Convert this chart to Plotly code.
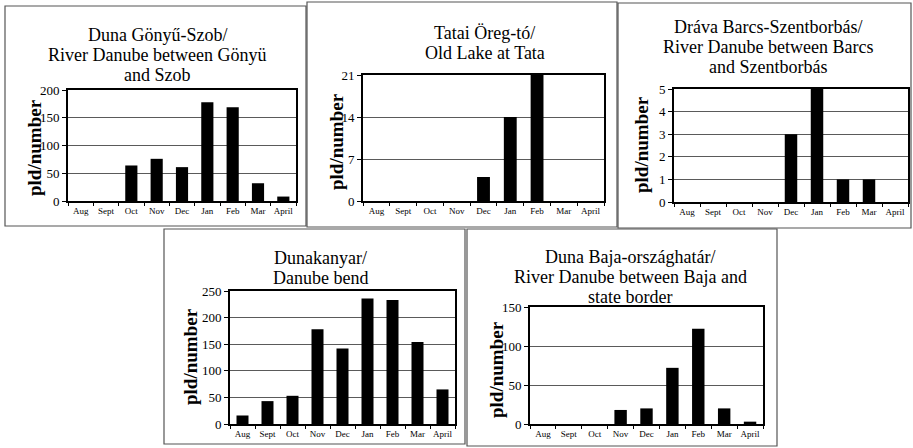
import plotly.graph_objects as go

W, H = 913, 448

months = ["Aug", "Sept", "Oct", "Nov", "Dec", "Jan", "Feb", "Mar", "April"]
gonyu_szob = [0, 0, 64, 76, 61, 178, 169, 32, 8]
tata = [0, 0, 0, 0, 4, 14, 21, 0, 0]
barcs = [0, 0, 0, 0, 3, 5, 1, 1, 0]
dunakanyar = [16, 43, 53, 178, 142, 236, 233, 154, 65]
baja = [0, 0, 0, 18, 20, 72, 122, 20, 3]

titles = [
    ["Duna Gönyű-Szob/", "River Danube between Gönyü", "and Szob"],
    ["Tatai Öreg-tó/", "Old Lake at Tata"],
    ["Dráva Barcs-Szentborbás/", "River Danube between Barcs", "and Szentborbás"],
    ["Dunakanyar/", "Danube bend"],
    ["Duna Baja-országhatár/", "River Danube between Baja and", "state border"],
]
y_max = [200, 21, 5, 250, 150]
y_step = [50, 7, 1, 50, 50]
series = [gonyu_szob, tata, barcs, dunakanyar, baja]
ytitle = "pld/number"

# pixel geometry (style/layout only)
plot_px = [  # x0, x1, ytop, ybottom
    (68, 296, 90, 201),
    (363, 604, 75, 201),
    (674, 908, 89, 202),
    (230, 455, 291, 424),
    (530, 763, 307, 424),
]
panel_px = [  # x0, x1, y0, y1
    (5, 306, 6, 226),
    (307, 617, 2, 227),
    (618, 911, 3, 228),
    (164, 465, 229, 444),
    (467, 777, 229, 446),
]
title_cx = [157, 485, 768, 320, 630]
title_y0 = [35, 33, 27, 258, 257]
ytitle_pos = [(35, 148), (336, 142), (641, 145), (190, 357), (496, 370)]

SERIF = "Liberation Serif"

def px(x):
    return x / W

def py(y):
    return 1 - y / H

fig = go.Figure()
layout = dict(
    width=W, height=H,
    margin=dict(l=0, r=0, t=0, b=0),
    paper_bgcolor="white", plot_bgcolor="white",
    showlegend=False, bargap=0.52,
    font=dict(family=SERIF, color="black"),
)
annotations = []
shapes = []

for i in range(5):
    n = "" if i == 0 else str(i + 1)
    fig.add_trace(go.Bar(
        x=months, y=series[i], xaxis="x" + n, yaxis="y" + n,
        marker=dict(color="black", line=dict(width=0)),
        hoverinfo="x+y",
    ))
    x0, x1, yt, yb = plot_px[i]
    layout["xaxis" + n] = dict(
        domain=[px(x0), px(x1)], anchor="y" + n, type="category",
        showline=True, mirror=True, linecolor="black", linewidth=2,
        ticks="outside", tickson="boundaries", ticklen=3, tickcolor="black",
        tickwidth=1, showgrid=False, tickangle=0, automargin=False,
        tickfont=dict(family=SERIF, size=9, color="black"),
        fixedrange=True,
    )
    layout["yaxis" + n] = dict(
        domain=[py(yb), py(yt)], anchor="x" + n,
        range=[0, y_max[i]], dtick=y_step[i], tick0=0,
        showline=True, mirror=True, linecolor="black", linewidth=2,
        ticks="outside", ticklen=4, tickcolor="black", tickwidth=1,
        showgrid=True, gridcolor="#5a5a5a", gridwidth=1, zeroline=False,
        tickfont=dict(family=SERIF, size=13, color="black"),
        fixedrange=True, automargin=False,
    )
    for k, line in enumerate(titles[i]):
        annotations.append(dict(
            text=line, xref="paper", yref="paper",
            x=px(title_cx[i]), y=py(title_y0[i] + 20 * k),
            xanchor="center", yanchor="middle", showarrow=False,
            font=dict(family=SERIF, size=18, color="black"),
        ))
    tx, ty = ytitle_pos[i]
    annotations.append(dict(
        text="<b>" + ytitle + "</b>", xref="paper", yref="paper",
        x=px(tx), y=py(ty), xanchor="center", yanchor="middle",
        textangle=-90, showarrow=False,
        font=dict(family=SERIF, size=19, color="black"),
    ))
    bx0, bx1, by0, by1 = panel_px[i]
    shapes.append(dict(
        type="rect", xref="paper", yref="paper",
        x0=px(bx0), x1=px(bx1), y0=py(by1), y1=py(by0),
        line=dict(color="#555555", width=1.2), fillcolor="rgba(0,0,0,0)",
        layer="below",
    ))

layout["annotations"] = annotations
layout["shapes"] = shapes
fig.update_layout(**layout)
fig.write_html(
    "out.html",
    config={"displayModeBar": False, "staticPlot": True},
    post_script="document.body.style.margin='0';document.body.style.overflow='hidden';",
)
